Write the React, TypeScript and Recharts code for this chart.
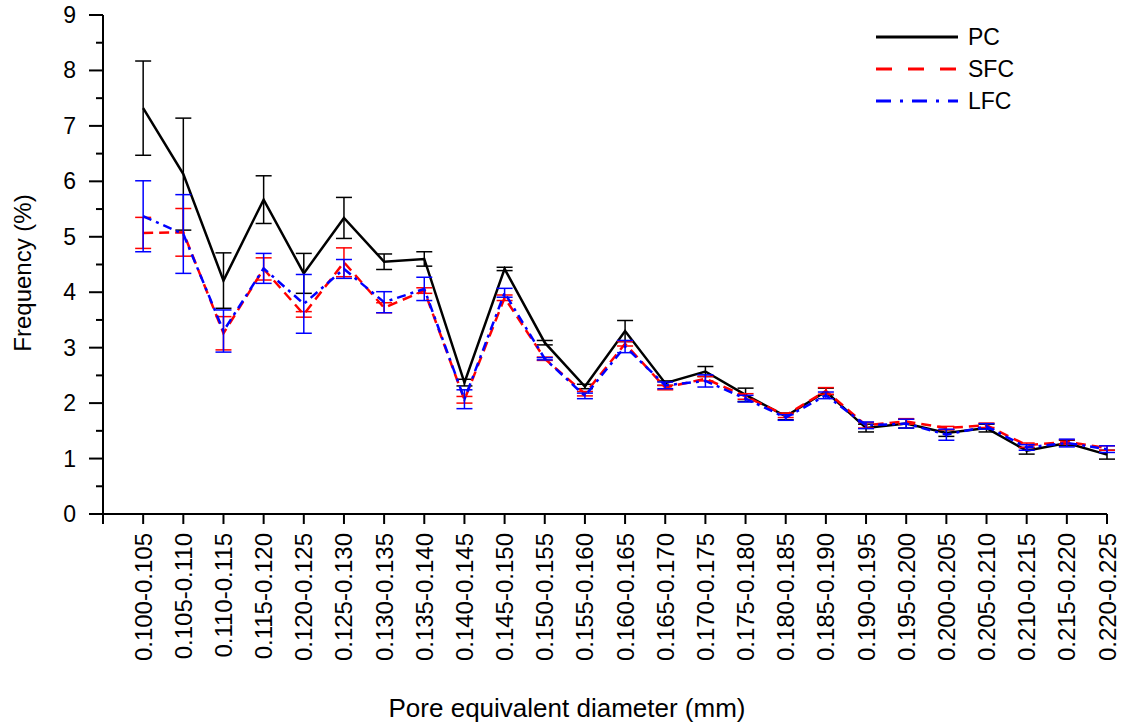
import { CartesianGrid, ErrorBar, Legend, Line, LineChart, XAxis, YAxis } from "recharts";

const categories = [
  "0.100-0.105", "0.105-0.110", "0.110-0.115", "0.115-0.120", "0.120-0.125",
  "0.125-0.130", "0.130-0.135", "0.135-0.140", "0.140-0.145", "0.145-0.150",
  "0.150-0.155", "0.155-0.160", "0.160-0.165", "0.165-0.170", "0.170-0.175",
  "0.175-0.180", "0.180-0.185", "0.185-0.190", "0.190-0.195", "0.195-0.200",
  "0.200-0.205", "0.205-0.210", "0.210-0.215", "0.215-0.220", "0.220-0.225",
];

const pc = [7.32, 6.13, 4.21, 5.67, 4.34, 5.34, 4.55, 4.6, 2.37, 4.42, 3.09, 2.3, 3.3, 2.36, 2.57, 2.15, 1.76, 2.21, 1.55, 1.63, 1.46, 1.55, 1.14, 1.28, 1.07];
const pcErr = [0.85, 1.01, 0.5, 0.43, 0.36, 0.37, 0.14, 0.13, 0.06, 0.03, 0.04, 0.04, 0.19, 0.04, 0.09, 0.12, 0.06, 0.06, 0.07, 0.08, 0.06, 0.07, 0.06, 0.05, 0.08];

const sfc = [5.07, 5.08, 3.26, 4.42, 3.6, 4.54, 3.72, 4.03, 2.06, 3.9, 2.8, 2.17, 3.07, 2.28, 2.44, 2.12, 1.78, 2.22, 1.6, 1.67, 1.55, 1.6, 1.24, 1.3, 1.19];
const sfcErr = [0.28, 0.43, 0.3, 0.2, 0.05, 0.26, 0.09, 0.05, 0.06, 0.05, 0.03, 0.04, 0.04, 0.04, 0.04, 0.05, 0.04, 0.06, 0.05, 0.05, 0.03, 0.04, 0.04, 0.04, 0.04];

const lfc = [5.37, 5.05, 3.3, 4.43, 3.79, 4.42, 3.82, 4.06, 2.07, 3.99, 2.8, 2.13, 3.02, 2.32, 2.4, 2.08, 1.74, 2.14, 1.6, 1.63, 1.43, 1.58, 1.2, 1.28, 1.17];
const lfcErr = [0.64, 0.71, 0.38, 0.27, 0.53, 0.17, 0.19, 0.21, 0.17, 0.08, 0.02, 0.05, 0.11, 0.06, 0.11, 0.06, 0.05, 0.06, 0.06, 0.08, 0.1, 0.05, 0.05, 0.07, 0.06];

const data = categories.map((label, i) => ({
  x: i + 1,
  label,
  pc: pc[i],
  pcErr: pcErr[i],
  sfc: sfc[i],
  sfcErr: sfcErr[i],
  lfc: lfc[i],
  lfcErr: lfcErr[i],
}));

const xTicks = Array.from({ length: 26 }, (_, i) => i);
const yTicks = Array.from({ length: 19 }, (_, i) => i / 2);

const FONT = "'Liberation Sans', Arial, sans-serif";

const legendItems = [
  { label: "PC", color: "#000000", dash: undefined },
  { label: "SFC", color: "#ff0000", dash: "16 16" },
  { label: "LFC", color: "#0000ff", dash: "15 9 3 9" },
];

function XTick(props: any) {
  const { x, y, payload } = props;
  const label = categories[payload.value - 1];
  return (
    <g>
      <line x1={x} x2={x} y1={y} y2={y + 10} stroke="#000" strokeWidth={2} />
      {label && (
        <text
          x={x}
          y={y + 19}
          transform={`rotate(-90 ${x} ${y + 19})`}
          textAnchor="end"
          dominantBaseline="central"
          fontSize={24}
          fontFamily={FONT}
          fill="#000"
        >
          {label}
        </text>
      )}
    </g>
  );
}

function YTick(props: any) {
  const { x, y, payload } = props;
  const major = Number.isInteger(payload.value);
  return (
    <g>
      <line x1={x} x2={x - (major ? 14 : 7)} y1={y} y2={y} stroke="#000" strokeWidth={2} />
      {major && (
        <text x={x - 27} y={y} textAnchor="end" dominantBaseline="central" fontSize={23} fontFamily={FONT} fill="#000">
          {payload.value}
        </text>
      )}
    </g>
  );
}

function LegendBox() {
  return (
    <div style={{ fontFamily: FONT, fontSize: 23 }}>
      {legendItems.map((item) => (
        <div key={item.label} style={{ display: "flex", alignItems: "center", height: 32 }}>
          <svg width={82} height={6}>
            <line x1={0} x2={82} y1={3} y2={3} stroke={item.color} strokeWidth={3} strokeDasharray={item.dash} />
          </svg>
          <span style={{ marginLeft: 10 }}>{item.label}</span>
        </div>
      ))}
    </div>
  );
}

export default function App() {
  return (
    <div style={{ position: "absolute", left: 0, top: 0, width: 1121, height: 727, background: "#fff", fontFamily: FONT }}>
      <LineChart width={1121} height={727} data={data} margin={{ top: 15, right: 14, left: 0, bottom: 0 }}>
        <CartesianGrid stroke="none" />
        <XAxis
          type="number"
          dataKey="x"
          domain={[0, 25]}
          ticks={xTicks}
          interval={0}
          height={213}
          tickSize={0}
          tickMargin={0}
          tickLine={false}
          axisLine={{ stroke: "#000", strokeWidth: 2 }}
          tick={<XTick />}
          label={{
            content: () => (
              <text x={567} y={717} textAnchor="middle" fontSize={26} fontFamily={FONT} fill="#000">
                Pore equivalent diameter (mm)
              </text>
            ),
          }}
        />
        <YAxis
          type="number"
          domain={[0, 9]}
          ticks={yTicks}
          interval={0}
          width={103}
          tickSize={0}
          tickMargin={0}
          tickLine={false}
          axisLine={{ stroke: "#000", strokeWidth: 2 }}
          tick={<YTick />}
          label={{
            content: () => (
              <text
                x={22}
                y={273}
                transform="rotate(-90 22 273)"
                textAnchor="middle"
                dominantBaseline="central"
                fontSize={24}
                fontFamily={FONT}
                fill="#000"
              >
                Frequency (%)
              </text>
            ),
          }}
        />
        <Legend
          content={<LegendBox />}
          layout="horizontal"
          verticalAlign="middle"
          align="center"
          wrapperStyle={{ top: 21, left: 876, width: 200 }}
        />
        <Line dataKey="pc" stroke="#000000" strokeWidth={2.5} dot={false} isAnimationActive={false}>
          <ErrorBar dataKey="pcErr" width={8} stroke="#000000" strokeWidth={1.5} />
        </Line>
        <Line dataKey="sfc" stroke="#ff0000" strokeWidth={2.5} strokeDasharray="10 6" dot={false} isAnimationActive={false}>
          <ErrorBar dataKey="sfcErr" width={8} stroke="#ff0000" strokeWidth={1.5} />
        </Line>
        <Line dataKey="lfc" stroke="#0000ff" strokeWidth={2.5} strokeDasharray="9 5 3 5" dot={false} isAnimationActive={false}>
          <ErrorBar dataKey="lfcErr" width={8} stroke="#0000ff" strokeWidth={1.5} />
        </Line>
      </LineChart>
    </div>
  );
}
